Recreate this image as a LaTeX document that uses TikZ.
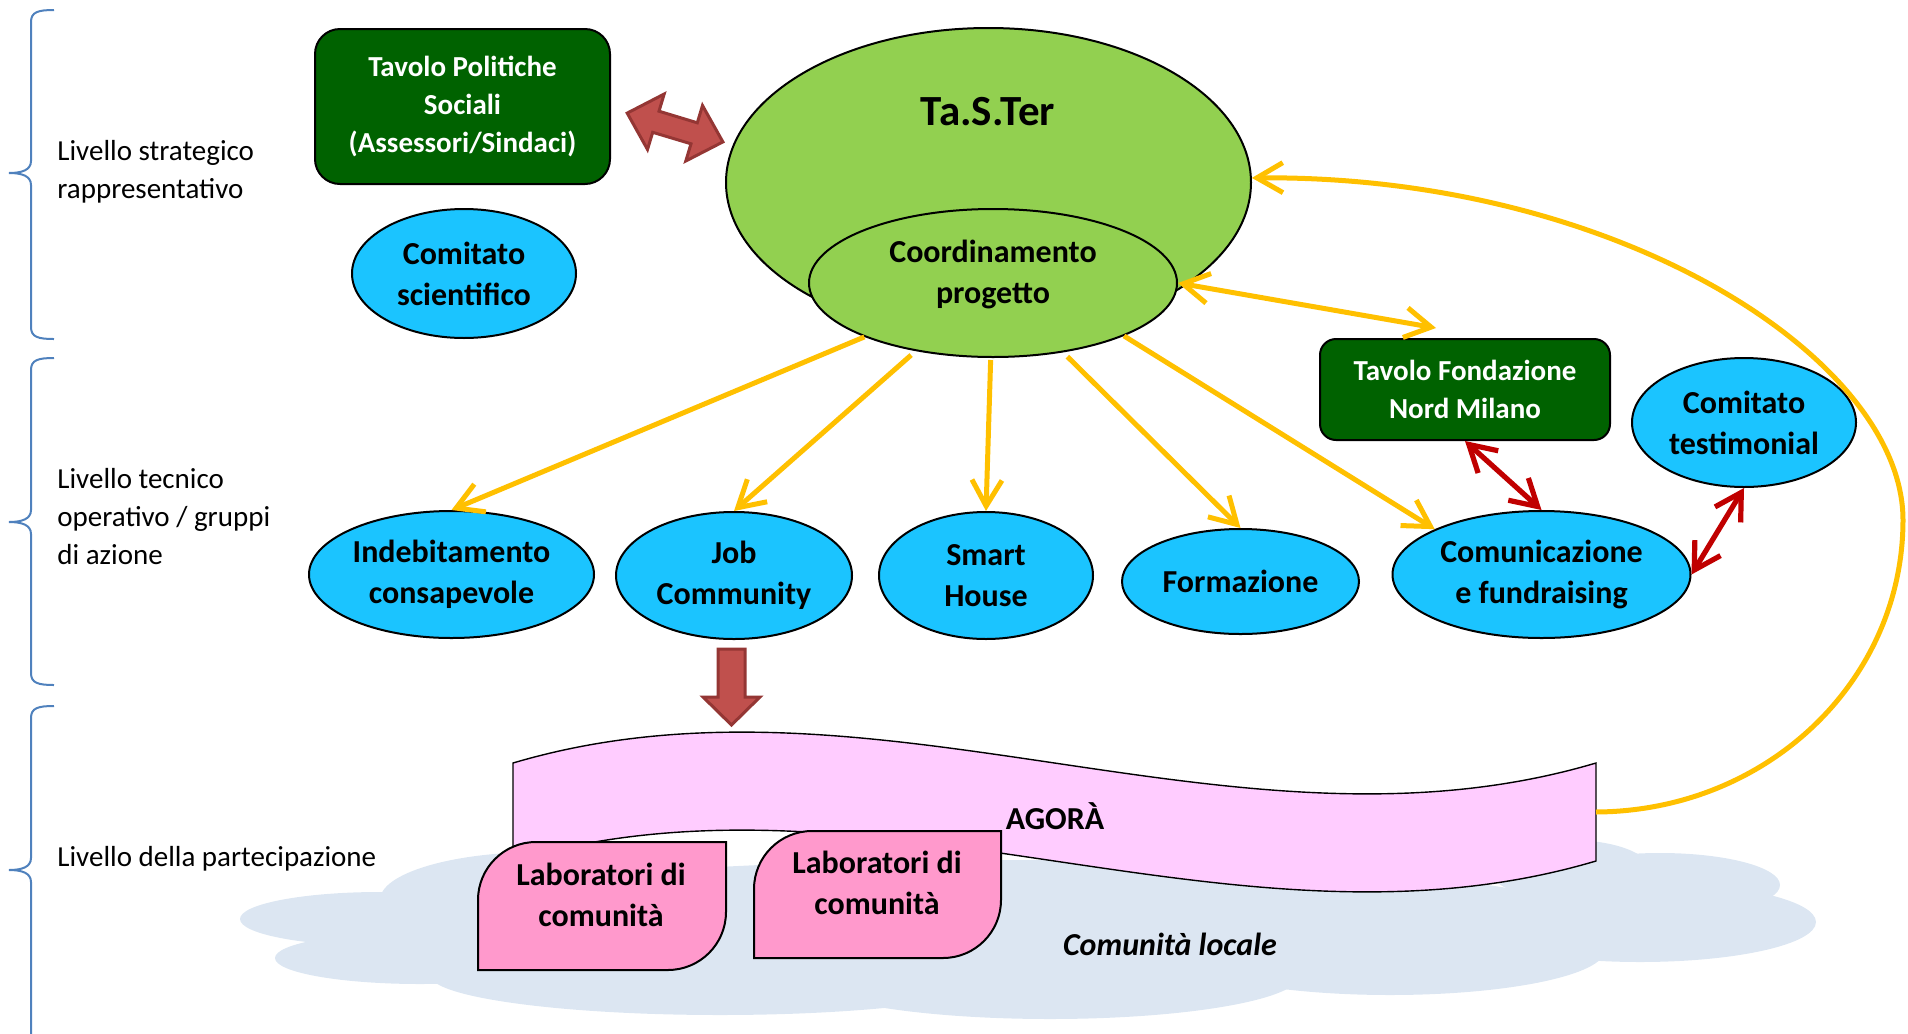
\documentclass[tikz,border=0pt]{standalone}
\usepackage{fontspec}
\setmainfont{Carlito}
\usetikzlibrary{shapes.geometric,arrows.meta,calc}

\definecolor{skyc}{RGB}{27,196,255}
\definecolor{lgreen}{RGB}{146,208,80}
\definecolor{dgreen}{RGB}{0,98,0}
\definecolor{gold}{RGB}{255,192,0}
\definecolor{dred}{RGB}{192,0,0}
\definecolor{blockred}{RGB}{192,80,77}
\definecolor{blockedge}{RGB}{148,54,52}
\definecolor{bannerpink}{RGB}{255,204,255}
\definecolor{labpink}{RGB}{255,153,204}
\definecolor{cloudc}{RGB}{220,230,242}
\definecolor{bracec}{RGB}{79,129,189}

\tikzset{
  lvl/.style={font=\fontsize{14.5}{19}\selectfont, align=left, anchor=west, inner sep=0pt},
  grp/.style={ellipse, draw=black, line width=1pt, fill=skyc, inner sep=0pt,
              font=\bfseries\fontsize{16}{20.5}\selectfont, align=center},
  greenell/.style={ellipse, draw=black, line width=1pt, fill=lgreen, inner sep=0pt},
  tbox/.style={rectangle, draw=black, line width=1pt, fill=dgreen, text=white, inner sep=0pt,
               font=\bfseries\fontsize{14.5}{19}\selectfont, align=center},
  btxt/.style={font=\bfseries\fontsize{16}{20.5}\selectfont, align=center, inner sep=0pt},
  ya/.style={draw=gold, line width=2.5pt, -{Straight Barb[length=13pt,width=15pt]}},
  yb/.style={draw=gold, line width=2.5pt, {Straight Barb[length=13pt,width=15pt]}-{Straight Barb[length=13pt,width=15pt]}},
  ra/.style={draw=dred, line width=2.6pt, {Straight Barb[length=13pt,width=15pt]}-{Straight Barb[length=13pt,width=15pt]}},
  blockarrow/.style={fill=blockred, draw=blockedge, line width=1.5pt, line join=miter},
  bracepath/.style={draw=bracec, line width=1pt},
  labshape/.style={fill=labpink, draw=black, line width=1pt},
}

\begin{document}
\begin{tikzpicture}[x=0.5pt,y=-0.5pt]
\useasboundingbox (0,0) rectangle (1908,1034);
\clip (0,0) rectangle (1908,1034);

% ---------- level braces ----------
\draw[bracepath] (54,10) .. controls (38,10) and (31,12) .. (31,22) -- (31,161)
  .. controls (31,170) and (22,173) .. (9,173) .. controls (22,173) and (31,176) .. (31,185)
  -- (31,327) .. controls (31,337) and (38,339) .. (54,339);
\draw[bracepath] (54,358) .. controls (38,358) and (31,360) .. (31,370) -- (31,510)
  .. controls (31,519) and (22,522) .. (9,522) .. controls (22,522) and (31,525) .. (31,534)
  -- (31,673) .. controls (31,683) and (38,685) .. (54,685);
\draw[bracepath] (54,706) .. controls (38,706) and (31,708) .. (31,718) -- (31,858)
  .. controls (31,867) and (22,870) .. (9,870) .. controls (22,870) and (31,873) .. (31,882)
  -- (31,1050);

\node[lvl] (lv1) at (57,172) {Livello strategico\\rappresentativo};
\node[lvl] (lv2) at (57,517) {Livello tecnico\\operativo / gruppi\\di azione};
\node[lvl] (lv3) at (57,859) {Livello della partecipazione};

% ---------- local community cloud ----------
\begin{scope}
  \fill[cloudc] (540,900) ellipse [x radius=80pt, y radius=24pt];
  \fill[cloudc] (380,919) ellipse [x radius=70pt, y radius=13.5pt];
  \fill[cloudc] (420,958) ellipse [x radius=72.5pt, y radius=13pt];
  \fill[cloudc] (720,975) ellipse [x radius=145pt, y radius=20pt];
  \fill[cloudc] (1050,975) ellipse [x radius=125pt, y radius=22pt];
  \fill[cloudc] (1390,950) ellipse [x radius=107.5pt, y radius=22.5pt];
  \fill[cloudc] (1640,922) ellipse [x radius=88pt, y radius=20pt];
  \fill[cloudc] (1660,885) ellipse [x radius=60pt, y radius=16pt];
  \fill[cloudc] (1570,870) ellipse [x radius=40pt, y radius=15pt];
  \fill[cloudc] (1000,920) ellipse [x radius=300pt, y radius=30pt];
\end{scope}

% ---------- AGORA banner ----------
\filldraw[fill=bannerpink, draw=black, line width=0.7pt]
  (513,763) .. controls (874,656) and (1235,870) .. (1596,763) -- (1596,861)
  .. controls (1235,968) and (874,754) .. (513,861) -- cycle;
\coordinate (agoraend) at (1596,812);
\node[btxt] (agora) at (1055,816) {AGORÀ};

% ---------- community labs ----------
\filldraw[labshape] (536,842) -- (726,842) -- (726,912) .. controls (726,944) and (700,970) .. (668,970)
  -- (478,970) -- (478,900) .. controls (478,868) and (504,842) .. (536,842) -- cycle;
\filldraw[labshape] (812,831) -- (1001,831) -- (1001,900) .. controls (1001,932) and (975,958) .. (943,958)
  -- (754,958) -- (754,889) .. controls (754,857) and (780,831) .. (812,831) -- cycle;
\node[btxt] (lab1) at (601,895) {Laboratori di\\comunità};
\node[btxt] (lab2) at (877,883) {Laboratori di\\comunità};

\node[font=\bfseries\itshape\fontsize{16}{20}\selectfont, inner sep=0pt] (comloc) at (1170,944) {Comunità locale};

% ---------- strategic level ----------
\node[tbox, rounded corners=12.5pt, minimum width=147.5pt, minimum height=77.5pt] (tps) at (462.5,106.5)
  {Tavolo Politiche\\Sociali\\(Assessori/Sindaci)};
\node[grp, minimum width=112pt, minimum height=64.5pt] (cscient) at (464,273.5) {Comitato\\scientifico};

\node[greenell, minimum width=262.5pt, minimum height=154.5pt] (taster) at (988.5,182.5) {};
\node[font=\bfseries\fontsize{21.5}{26}\selectfont, inner sep=0pt] (tastertitle) at (988,112) {Ta.S.Ter};
\node[greenell, minimum width=184pt, minimum height=74pt] (coord) at (993,283) {};
\node[btxt] (coordtext) at (993,274) {Coordinamento\\progetto};

% ---------- action groups ----------
\node[grp, minimum width=142.5pt, minimum height=63.5pt] (indeb) at (451.5,574.5) {Indebitamento\\consapevole};
\node[grp, minimum width=118pt, minimum height=63.5pt] (job) at (734,575.5) {Job\\Community};
\node[grp, minimum width=107pt, minimum height=63.5pt] (smart) at (986,575.5) {Smart\\House};
\node[grp, minimum width=118.5pt, minimum height=52.5pt] (form) at (1240.5,581.5) {Formazione};
\node[grp, minimum width=149pt, minimum height=63.5pt] (comm) at (1541.5,574.5) {Comunicazione\\e fundraising};

\node[tbox, rounded corners=8pt, minimum width=145pt, minimum height=50.5pt] (tfnm) at (1465,389.5)
  {Tavolo Fondazione\\Nord Milano};
\node[grp, minimum width=112pt, minimum height=64.5pt] (testim) at (1744,422.5) {Comitato\\testimonial};

% ---------- block arrows ----------
\filldraw[blockarrow] (627.2,113.1) -- (647.5,149.5) -- (652.7,132.3) -- (691.0,143.8) -- (685.8,161.0)
  -- (722.9,141.9) -- (702.5,105.5) -- (697.3,122.8) -- (659.0,111.2) -- (664.2,94.0) -- cycle;
\filldraw[blockarrow] (718,649) -- (745,649) -- (745,697) -- (760,697) -- (731.5,725) -- (703,697) -- (718,697) -- cycle;

% ---------- connectors ----------
\draw[ya] (coord) -- (indeb.north);
\draw[ya, shorten <=3pt] (coord) -- (job.north);
\draw[ya, shorten <=1pt] (coord) -- (smart.north);
\draw[ya, shorten <=3pt] (coord) -- (form.north);
\draw[ya] (coord.-22) -- (comm.157);

\coordinate (tfnmtip) at ($(tfnm.north)+(-29,-10)$);
\draw[yb] (coord.east) -- (tfnmtip);

\draw[ya] (agoraend) .. controls (1768,811) and (1903,680) .. (1903,520)
  .. controls (1903,360) and (1620,175) .. (taster.1);

\draw[ra] (tfnm.south) -- (comm.north);
\draw[ra] (comm.east) -- (testim.south);

\end{tikzpicture}
\end{document}
